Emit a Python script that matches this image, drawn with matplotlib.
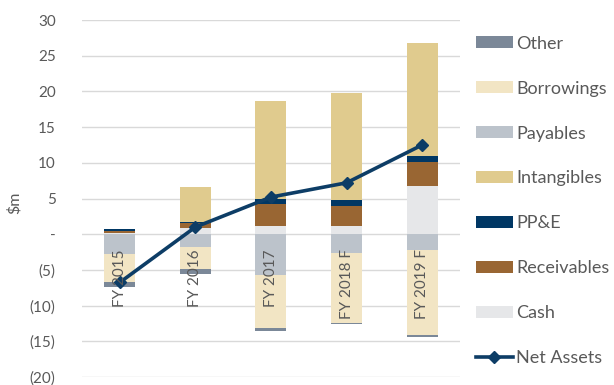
import numpy as np
import matplotlib
matplotlib.use('Agg')
import matplotlib.pyplot as plt
from matplotlib.patches import Patch
from matplotlib.lines import Line2D
from matplotlib.ticker import FuncFormatter

plt.rcParams['font.family'] = ['Lato', 'DejaVu Sans']

years = ['FY 2015', 'FY 2016', 'FY 2017', 'FY 2018 F', 'FY 2019 F']

# assets (stacked upward from zero)
cash = [0.1, 0.8, 1.2, 1.2, 6.75]
receivables = [0.4, 0.7, 3.0, 2.8, 3.4]
ppe = [0.2, 0.2, 0.7, 0.8, 0.8]
intangibles = [0.0, 4.9, 13.8, 15.0, 15.9]
# liabilities (stacked downward from zero)
payables = [-2.8, -1.8, -5.7, -2.6, -2.2]
borrowings = [-3.9, -3.1, -7.5, -9.8, -11.9]
other = [-0.75, -0.7, -0.3, -0.2, -0.25]

net_assets = [-6.75, 1.0, 5.2, 7.2, 12.5]

colors = {
    'Cash': '#e6e7e9',
    'Receivables': '#996633',
    'PP&E': '#003764',
    'Intangibles': '#e0cb8e',
    'Payables': '#bcc3cb',
    'Borrowings': '#f2e5c4',
    'Other': '#7b8898',
}
line_color = '#0d3d66'
text_color = '#595959'

fig = plt.figure(figsize=(6.14, 3.85), dpi=100)
ax = fig.add_axes([0.1336, 0.0208, 0.6155, 0.9272])

x = np.arange(len(years))
w = 0.41

pos_series = [('Cash', cash), ('Receivables', receivables),
              ('PP&E', ppe), ('Intangibles', intangibles)]
neg_series = [('Payables', payables), ('Borrowings', borrowings),
              ('Other', other)]

bottom = np.zeros(len(years))
for name, vals in pos_series:
    v = np.array(vals)
    ax.bar(x, v, w, bottom=bottom, color=colors[name], zorder=2)
    bottom += v

bottom = np.zeros(len(years))
for name, vals in neg_series:
    v = np.array(vals)
    ax.bar(x, v, w, bottom=bottom, color=colors[name], zorder=2)
    bottom += v

ax.plot(x, net_assets, color=line_color, lw=2.6, marker='D', ms=6.5,
        zorder=4)

ax.set_xlim(-0.5, len(years) - 0.5)
ax.set_ylim(-20, 30)
ax.set_yticks(np.arange(-20, 31, 5))


def fmt(v, pos):
    if v == 0:
        return '-'
    if v < 0:
        return '(%d)' % abs(v)
    return '%d' % v


ax.yaxis.set_major_formatter(FuncFormatter(fmt))
ax.grid(axis='y', color='#d9d9d9', lw=1, zorder=0)
ax.set_axisbelow(True)
for s in ax.spines.values():
    s.set_visible(False)
ax.set_xticks([])
ax.tick_params(axis='y', length=0, pad=19, labelsize=11,
               labelcolor=text_color)

# category labels just under the zero line, drawn over the bars
for xi, name in zip(x, years):
    ax.annotate(name, (xi, 0), xytext=(0, -11), textcoords='offset points',
                rotation=90, ha='center', va='top', fontsize=11,
                color=text_color, zorder=5)

ax.set_ylabel('$m', color=text_color, fontsize=11.5)
ax.yaxis.set_label_coords(-0.16, 0.487)

legend_order = ['Other', 'Borrowings', 'Payables', 'Intangibles',
                'PP&E', 'Receivables', 'Cash']
handles = [Patch(facecolor=colors[n], edgecolor='none', label=n)
           for n in legend_order]
handles.append(Line2D([], [], color=line_color, lw=2.6, marker='D',
                      ms=6.5, label='Net Assets'))
leg = fig.legend(handles=handles, loc='upper left',
                 bbox_to_anchor=(0.775, 0.907), frameon=False,
                 fontsize=13, labelcolor=text_color,
                 handlelength=2.05, handleheight=0.65, handletextpad=0.2,
                 labelspacing=1.6, borderaxespad=0, borderpad=0)

fig.savefig('out.png', dpi=100)
